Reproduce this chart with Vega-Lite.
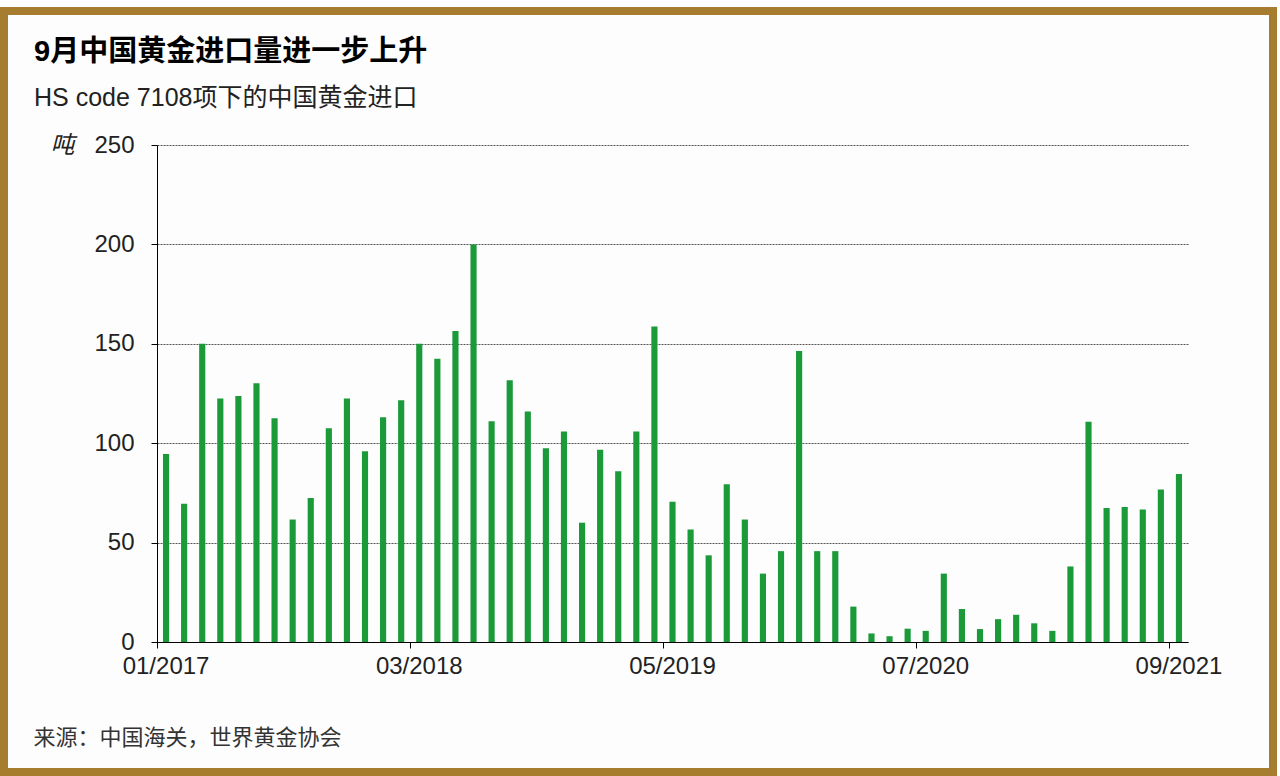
{
  "$schema": "https://vega.github.io/schema/vega-lite/v6.json",
  "width": 1269,
  "height": 761,
  "autosize": "none",
  "padding": {"left": 4, "top": 11, "right": 7, "bottom": 4},
  "background": "#ffffff",
  "title": {
    "text": "9月中国黄金进口量进一步上升",
    "subtitle": "HS code 7108项下的中国黄金进口",
    "anchor": "start",
    "frame": "group",
    "offset": -100,
    "dx": 30,
    "font": "'Liberation Sans', 'Noto Sans CJK SC'",
    "fontSize": 29,
    "fontWeight": "bold",
    "color": "#000000",
    "subtitleFont": "'Liberation Sans', 'Noto Sans CJK SC'",
    "subtitleFontSize": 25,
    "subtitleColor": "#222222",
    "subtitlePadding": 19
  },
  "data": {
    "values": [
      {"month": "01/2017", "tons": 94.6},
      {"month": "02/2017", "tons": 69.5},
      {"month": "03/2017", "tons": 150},
      {"month": "04/2017", "tons": 122.5},
      {"month": "05/2017", "tons": 123.7},
      {"month": "06/2017", "tons": 130.2},
      {"month": "07/2017", "tons": 112.6},
      {"month": "08/2017", "tons": 61.6},
      {"month": "09/2017", "tons": 72.4},
      {"month": "10/2017", "tons": 107.5},
      {"month": "11/2017", "tons": 122.5},
      {"month": "12/2017", "tons": 96},
      {"month": "01/2018", "tons": 113.1},
      {"month": "02/2018", "tons": 121.6},
      {"month": "03/2018", "tons": 150},
      {"month": "04/2018", "tons": 142.5},
      {"month": "05/2018", "tons": 156.5},
      {"month": "06/2018", "tons": 200},
      {"month": "07/2018", "tons": 111},
      {"month": "08/2018", "tons": 131.7},
      {"month": "09/2018", "tons": 116},
      {"month": "10/2018", "tons": 97.4},
      {"month": "11/2018", "tons": 105.9},
      {"month": "12/2018", "tons": 60},
      {"month": "01/2019", "tons": 96.7},
      {"month": "02/2019", "tons": 85.9},
      {"month": "03/2019", "tons": 105.9},
      {"month": "04/2019", "tons": 158.7},
      {"month": "05/2019", "tons": 70.6},
      {"month": "06/2019", "tons": 56.6},
      {"month": "07/2019", "tons": 43.6},
      {"month": "08/2019", "tons": 79.4},
      {"month": "09/2019", "tons": 61.6},
      {"month": "10/2019", "tons": 34.4},
      {"month": "11/2019", "tons": 45.7},
      {"month": "12/2019", "tons": 146.4},
      {"month": "01/2020", "tons": 45.7},
      {"month": "02/2020", "tons": 45.7},
      {"month": "03/2020", "tons": 17.8},
      {"month": "04/2020", "tons": 4.3},
      {"month": "05/2020", "tons": 2.9},
      {"month": "06/2020", "tons": 6.7},
      {"month": "07/2020", "tons": 5.6},
      {"month": "08/2020", "tons": 34.4},
      {"month": "09/2020", "tons": 16.6},
      {"month": "10/2020", "tons": 6.5},
      {"month": "11/2020", "tons": 11.5},
      {"month": "12/2020", "tons": 13.7},
      {"month": "01/2021", "tons": 9.4},
      {"month": "02/2021", "tons": 5.6},
      {"month": "03/2021", "tons": 38},
      {"month": "04/2021", "tons": 110.8},
      {"month": "05/2021", "tons": 67.4},
      {"month": "06/2021", "tons": 67.9},
      {"month": "07/2021", "tons": 66.6},
      {"month": "08/2021", "tons": 76.7},
      {"month": "09/2021", "tons": 84.5}
    ]
  },
  "mark": {"type": "bar", "color": "#1a9a38", "width": {"band": 0.34}},
  "encoding": {
    "x": {
      "field": "month",
      "type": "ordinal",
      "sort": null,
      "scale": {"range": [153, 1184], "paddingInner": 0, "paddingOuter": 0},
      "axis": {
        "values": ["01/2017", "03/2018", "05/2019", "07/2020", "09/2021"],
        "bandPosition": 0,
        "labelOffset": 0,
        "offset": -130,
        "labelAngle": 0,
        "labelOverlap": false,
        "tickSize": 6,
        "tickColor": "#000000",
        "domainColor": "#000000",
        "labelFont": "'Liberation Sans'",
        "labelFontSize": 24,
        "labelColor": "#222222",
        "labelPadding": 6,
        "grid": false,
        "title": "来源：中国海关，世界黄金协会",
        "titleX": 29,
        "titleY": 95,
        "titleAlign": "left",
        "titleBaseline": "middle",
        "titleFont": "'Noto Sans CJK SC'",
        "titleFontSize": 22,
        "titleFontWeight": "normal",
        "titleColor": "#333333"
      }
    },
    "y": {
      "field": "tons",
      "type": "quantitative",
      "scale": {"domain": [0, 250], "range": [631, 134], "nice": false},
      "axis": {
        "values": [0, 50, 100, 150, 200, 250],
        "offset": -153,
        "grid": true,
        "gridDash": [2, 1],
        "gridColor": "#555555",
        "tickSize": 6,
        "tickColor": "#000000",
        "domainColor": "#000000",
        "labelFont": "'Liberation Sans'",
        "labelFontSize": 24,
        "labelColor": "#222222",
        "labelPadding": 17,
        "title": "吨",
        "titleAngle": 0,
        "titleX": -95,
        "titleY": 134,
        "titleAlign": "center",
        "titleBaseline": "middle",
        "titleFont": "'Noto Sans CJK SC'",
        "titleFontStyle": "italic",
        "titleFontSize": 24,
        "titleFontWeight": "normal",
        "titleColor": "#222222"
      }
    }
  },
  "config": {
    "view": {"stroke": "#a67c2f", "strokeWidth": 8, "fill": "#fdfdfd"}
  }
}
